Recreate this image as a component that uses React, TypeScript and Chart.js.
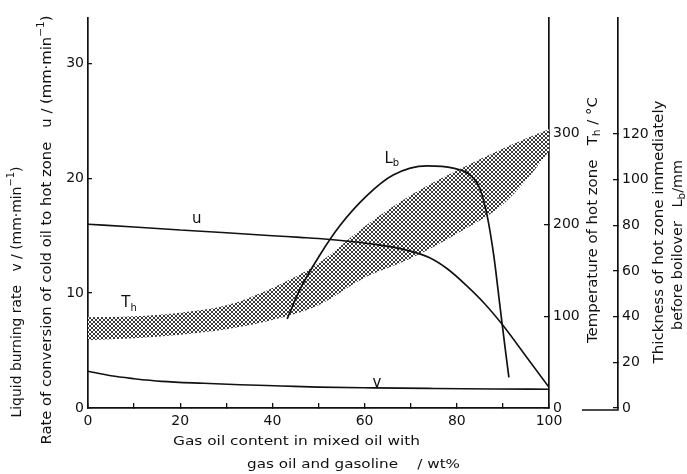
import React, { useEffect, useRef } from "react";
import { Chart, registerables } from "chart.js";

Chart.register(...registerables);

const FONT = "'DejaVu Sans', 'Liberation Sans', sans-serif";
const INK = "#111111";

// Tick values / labels
const xTicks = [0, 10, 20, 30, 40, 50, 60, 70, 80, 90, 100];
const xTickLabels = ["0", "", "20", "", "40", "", "60", "", "80", "", "100"];
const leftTicks = [0, 10, 20, 30];
const thTicks = [0, 100, 200, 300];
const lbTicks = [0, 20, 40, 60, 80, 100, 120];

// Hot-zone temperature band (Th, °C)
const bandX = [0, 10, 20, 30, 40, 50, 60, 70, 80, 90, 95, 100];
const thUpper = [99, 100, 104, 112, 131, 158, 198, 232, 259, 283, 294, 304];
const thLower = [74, 76, 80, 86, 96, 112, 142, 163, 190, 222, 248, 280];

// u: rate of conversion of cold oil to hot zone (mm/min)
const uX = [0, 10, 20, 30, 40, 46, 50, 57, 63, 68, 74, 78, 82, 86, 90, 95, 100];
const uVals = [16.0, 15.75, 15.5, 15.25, 15.0, 14.85, 14.75, 14.5, 14.2, 13.85, 13.1, 12.1, 10.7, 9.1, 7.2, 4.5, 1.8];

// v: liquid burning rate (mm/min)
const vX = [0, 5, 10, 16, 25, 33, 42, 50, 62, 75, 88, 100];
const vVals = [3.2, 2.8, 2.55, 2.32, 2.15, 2.03, 1.92, 1.82, 1.75, 1.7, 1.66, 1.63];

// Lb: thickness of hot zone immediately before boilover (mm)
const lbX = [43.2, 46, 50.3, 54.7, 60.5, 66.2, 73.5, 79.2, 82.9, 85, 86.6, 88, 89.4, 90.5, 91.3];
const lbVals = [39, 52, 67, 80, 93, 102, 106, 105, 102, 96, 84, 67, 44, 26, 13.4];

// Curve labels: text, subscript, x value, y value, axis
const curveLabelText = ["u", "v", "T", "L"];
const curveLabelSub = ["", "", "h", "b"];
const curveLabelX = [23.6, 62.7, 8.9, 65.9];
const curveLabelY = [16.4, 2.2, 114, 109];
const curveLabelAxis = ["y", "y", "th", "lb"];

type Seg = { t: string; s?: "sub" | "sup" };

function drawRich(
  ctx: CanvasRenderingContext2D,
  segs: Seg[],
  cx: number,
  cy: number,
  size: number,
  rot: number,
  targetLen?: number
) {
  ctx.save();
  ctx.translate(cx, cy);
  ctx.rotate(rot);
  const fontFor = (seg: Seg) => `${seg.s ? Math.round(size * 0.68) : size}px ${FONT}`;
  let total = 0;
  const widths = segs.map((seg) => {
    ctx.font = fontFor(seg);
    const w = ctx.measureText(seg.t).width;
    total += w;
    return w;
  });
  const k = targetLen ? targetLen / total : 1;
  ctx.scale(k, 1);
  let x = -total / 2;
  ctx.textBaseline = "middle";
  ctx.textAlign = "left";
  ctx.fillStyle = INK;
  segs.forEach((seg, i) => {
    ctx.font = fontFor(seg);
    const dy = seg.s === "sub" ? size * 0.3 : seg.s === "sup" ? -size * 0.38 : 0;
    ctx.fillText(seg.t, x, dy);
    x += widths[i];
  });
  ctx.restore();
}

function makeHatch(ctx: CanvasRenderingContext2D) {
  const c = document.createElement("canvas");
  c.width = 4;
  c.height = 4;
  const g = c.getContext("2d")!;
  g.fillStyle = "#ffffff";
  g.fillRect(0, 0, 4, 4);
  g.fillStyle = "#3a3a3a";
  for (let i = 0; i < 4; i++) {
    g.fillRect(i, i, 1, 1);
    g.fillRect(3 - i, i, 1, 1);
  }
  return ctx.createPattern(c, "repeat");
}

const titlesPlugin = {
  id: "titlesPlugin",
  afterDatasetsDraw(chart: any) {
    const ctx: CanvasRenderingContext2D = chart.ctx;
    const xs = chart.scales.x;
    for (let i = 0; i < curveLabelText.length; i++) {
      const sc = chart.scales[curveLabelAxis[i]];
      const px = xs.getPixelForValue(curveLabelX[i]);
      const py = sc.getPixelForValue(curveLabelY[i]);
      const segs: Seg[] = [{ t: curveLabelText[i] }];
      if (curveLabelSub[i]) segs.push({ t: curveLabelSub[i], s: "sub" });
      drawRich(ctx, segs, px, py, 15, 0);
    }
  },
  afterDraw(chart: any) {
    const ctx: CanvasRenderingContext2D = chart.ctx;
    const up = -Math.PI / 2;
    // left titles
    drawRich(
      ctx,
      [{ t: "Liquid burning rate   v / (mm·min" }, { t: "−1", s: "sup" }, { t: ")" }],
      17, 292, 14, up, 251
    );
    drawRich(
      ctx,
      [{ t: "Rate of conversion of cold oil to hot zone   u / (mm·min" }, { t: "−1", s: "sup" }, { t: ")" }],
      47, 230, 14, up, 429
    );
    // right titles
    drawRich(
      ctx,
      [{ t: "Temperature of hot zone   T" }, { t: "h", s: "sub" }, { t: " / °C" }],
      593, 220, 14, up, 246
    );
    drawRich(ctx, [{ t: "Thickness of hot zone immediately" }], 659, 232, 14, up, 263);
    drawRich(
      ctx,
      [{ t: "before boilover   L" }, { t: "b", s: "sub" }, { t: "/mm" }],
      678, 245, 14, up, 170
    );
    // bottom titles
    drawRich(ctx, [{ t: "Gas oil content in mixed oil with" }], 296.5, 442, 13, 0, 247);
    drawRich(ctx, [{ t: "gas oil and gasoline    / wt%" }], 353.5, 465, 13, 0, 213);

    // stub line at the foot of the Lb axis
    const lb = chart.scales.lb;
    const y0 = lb.getPixelForValue(0) + 2;
    ctx.save();
    ctx.strokeStyle = INK;
    ctx.lineWidth = 1.4;
    ctx.beginPath();
    ctx.moveTo(lb.left - 36, y0);
    ctx.lineTo(lb.left, y0);
    ctx.lineTo(lb.left, y0 - 3);
    ctx.stroke();
    ctx.restore();
  },
};

function pts(xa: number[], ya: number[]) {
  return xa.map((x, i) => ({ x, y: ya[i] }));
}

export default function App() {
  const ref = useRef<HTMLCanvasElement | null>(null);

  useEffect(() => {
    const canvas = ref.current!;
    const ctx = canvas.getContext("2d")!;
    const hatch = makeHatch(ctx);
    const tickFont = { family: FONT, size: 14 };

    const axisCommon = (tl: number) => ({
      grid: { drawOnChartArea: false, drawTicks: true, tickLength: tl, color: INK, lineWidth: 1.3 },
      border: { display: true, color: INK, width: 1.7 },
    });

    const chart = new Chart(ctx, {
      type: "line",
      data: {
        datasets: [
          {
            label: "u",
            data: pts(uX, uVals),
            yAxisID: "y",
            borderColor: INK,
            borderWidth: 1.6,
            cubicInterpolationMode: "monotone",
            pointRadius: 0,
            fill: false,
            order: 1,
          },
          {
            label: "v",
            data: pts(vX, vVals),
            yAxisID: "y",
            borderColor: INK,
            borderWidth: 1.6,
            cubicInterpolationMode: "monotone",
            pointRadius: 0,
            fill: false,
            order: 1,
          },
          {
            label: "Lb",
            data: pts(lbX, lbVals),
            yAxisID: "lb",
            borderColor: INK,
            borderWidth: 1.7,
            cubicInterpolationMode: "monotone",
            pointRadius: 0,
            fill: false,
            order: 1,
          },
          {
            label: "Th lower",
            data: pts(bandX, thLower),
            yAxisID: "th",
            borderColor: "rgba(0,0,0,0)",
            borderWidth: 0,
            cubicInterpolationMode: "monotone",
            pointRadius: 0,
            fill: false,
            order: 5,
          },
          {
            label: "Th upper",
            data: pts(bandX, thUpper),
            yAxisID: "th",
            borderColor: "rgba(0,0,0,0)",
            borderWidth: 0,
            backgroundColor: hatch as any,
            cubicInterpolationMode: "monotone",
            pointRadius: 0,
            fill: "-1",
            order: 4,
          },
        ],
      },
      options: {
        responsive: false,
        animation: false,
        layout: { padding: { top: 15, left: 0, right: 0, bottom: 0 } },
        plugins: {
          legend: { display: false },
          tooltip: { enabled: false },
          title: { display: false },
        },
        scales: {
          x: {
            type: "linear",
            position: "bottom",
            min: 0,
            max: 100,
            afterBuildTicks: (s: any) => {
              s.ticks = xTicks.map((v) => ({ value: v }));
            },
            ticks: {
              font: tickFont,
              color: INK,
              padding: 10,
              maxRotation: 0,
              autoSkip: false,
              callback: (v: any) => xTickLabels[xTicks.indexOf(Number(v))] ?? "",
            },
            ...axisCommon(-5),
            afterFit: (s: any) => {
              s.height = 66;
            },
          },
          y: {
            type: "linear",
            position: "left",
            min: 0,
            max: 34,
            afterBuildTicks: (s: any) => {
              s.ticks = leftTicks.map((v) => ({ value: v }));
            },
            ticks: { font: tickFont, color: INK, padding: 8 },
            ...axisCommon(-4),
            afterFit: (s: any) => {
              s.width = 88;
            },
          },
          th: {
            type: "linear",
            position: "right",
            min: 0,
            max: 426,
            afterBuildTicks: (s: any) => {
              s.ticks = thTicks.map((v) => ({ value: v }));
            },
            ticks: { font: tickFont, color: INK, padding: 9 },
            ...axisCommon(-5),
            afterFit: (s: any) => {
              s.width = 69;
            },
          },
          lb: {
            type: "linear",
            position: "right",
            min: 0,
            max: 171,
            afterBuildTicks: (s: any) => {
              s.ticks = lbTicks.map((v) => ({ value: v }));
            },
            ticks: { font: tickFont, color: INK, padding: 9 },
            ...axisCommon(-5),
            afterFit: (s: any) => {
              s.width = 69;
            },
          },
        },
      } as any,
      plugins: [titlesPlugin],
    });

    return () => {
      chart.destroy();
    };
  }, []);

  return (
    <div
      style={{
        position: "absolute",
        left: 0,
        top: 0,
        width: 687,
        height: 474,
        background: "#ffffff",
      }}
    >
      <canvas ref={ref} width={687} height={474} style={{ width: 687, height: 474, display: "block" }} />
    </div>
  );
}
